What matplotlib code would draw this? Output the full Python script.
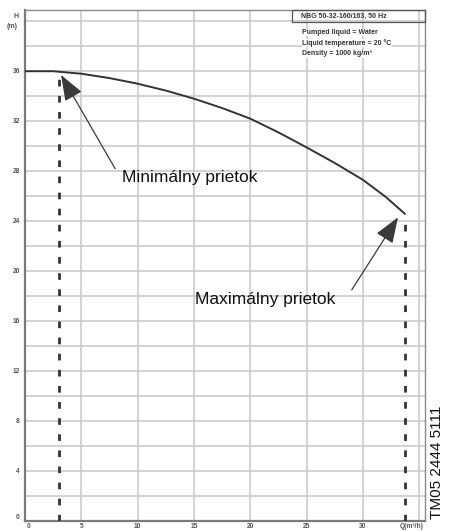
import matplotlib.pyplot as plt
import numpy as np

# ---------------- data ----------------
flow = [0, 2.5, 5, 7.5, 10, 12.5, 15, 17.5, 20, 22.5, 25, 27.5, 30, 32, 33.7]   # Q (m3/h)
head = [36.0, 36.0, 35.8, 35.45, 35.0, 34.45, 33.8, 33.05, 32.2, 31.1, 29.9,
        28.65, 27.3, 25.95, 24.6]                                             # H (m)

q_min = 3.0
q_max = 33.7
y_ticks = [0, 4, 8, 12, 16, 20, 24, 28, 32, 36]
x_ticks = [0, 5, 10, 15, 20, 25, 30]

title_box = "NBG 50-32-160/163, 50 Hz"
info_lines = ["Pumped liquid = Water", "Liquid temperature = 20 °C", "Density = 1000 kg/m³"]
label_min = "Minimálny prietok"
label_max = "Maximálny prietok"
doc_id = "TM05 2444 5111"

plt.rcParams['font.family'] = ['Liberation Sans', 'DejaVu Sans']

fig = plt.figure(figsize=(4.5, 5.31), dpi=100)
ax = fig.add_axes([25/450, 1-521/531, 400/450, 511/531])

ax.set_xlim(0, 35.5)
ax.set_ylim(0, 40.9)

grid_c = "#c8c8c8"
for v in np.arange(5, 36, 5):
    ax.axvline(v, color=grid_c, lw=1.1, zorder=0)
for v in np.arange(2, 41, 2):
    ax.axhline(v, color=grid_c, lw=1.1, zorder=0)

ax.set_xticks([])
ax.set_yticks([])
for s in ["top", "right"]:
    ax.spines[s].set_color("#8a8a8a")
    ax.spines[s].set_linewidth(1.0)
for s in ["left", "bottom"]:
    ax.spines[s].set_color("#7a7a7a")
    ax.spines[s].set_linewidth(1.6)

# tick labels as plain text
lab_c = "#555555"
for v in y_ticks:
    ax.text(-0.45, v + (0.25 if v == 0 else 0), str(v), ha="right", va="center", fontsize=4.8,
            color=lab_c, fontweight="bold", clip_on=False)
for v in x_ticks:
    ax.text(v + (0.3 if v == 0 else 0), -0.15, str(v), ha="center", va="top", fontsize=4.8,
            color=lab_c, fontweight="bold", clip_on=False)
ax.text(34.3, -0.15, "Q(m³/h)", ha="center", va="top", fontsize=4.8, color=lab_c,
        fontweight="bold", clip_on=False)
ax.text(-0.75, 40.4, "H", ha="center", va="center", fontsize=5, color=lab_c,
        fontweight="bold", clip_on=False)
ax.text(-1.1, 39.6, "(m)", ha="center", va="center", fontsize=5, color=lab_c,
        fontweight="bold", clip_on=False)

# curve
ax.plot(flow, head, color="#333333", lw=1.4, zorder=3)

# min / max flow markers
h_min = np.interp(q_min, flow, head)
h_max = head[-1]
ax.plot([q_min, q_min], [0, h_min - 0.2], color="#333333", lw=2.0, dashes=(2.4, 3.4), zorder=3)
ax.plot([q_max, q_max], [0, h_max - 0.2], color="#333333", lw=2.0, dashes=(2.4, 3.4), zorder=3)

arrow = dict(arrowstyle="-|>,head_length=1.6,head_width=0.6", color="#3a3a3a", lw=0.9,
             mutation_scale=10, shrinkA=0, shrinkB=0)
ax.annotate("", xy=(3.2, 35.7), xytext=(8.0, 28.2), arrowprops=arrow, zorder=4)
ax.annotate("", xy=(33.1, 24.3), xytext=(29.0, 18.5), arrowprops=arrow, zorder=4)
ax.text(8.6, 27.5, label_min, fontsize=12.5, ha="left", va="center", color="#111111")
ax.text(15.1, 17.7, label_max, fontsize=12.5, ha="left", va="center", color="#111111")

# info box top right
ax.add_patch(plt.Rectangle((23.7, 39.9), 11.8, 1.0, fill=False, ec="#555555", lw=0.9,
                           clip_on=False, zorder=5))
ax.text(24.5, 40.4, title_box, fontsize=5, va="center", ha="left", color="#333333",
        fontweight="bold")
for i, t in enumerate(info_lines):
    ax.text(24.6, 39.1 - i * 0.85, t, fontsize=5, va="center", ha="left", color="#333333",
            fontweight="bold", bbox=dict(fc="white", ec="none", pad=0.3))

fig.text(437/450, 1-462/531, doc_id, rotation=90, fontsize=11, ha="center", va="center",
         color="#111111")

fig.savefig("out.png", dpi=100)
